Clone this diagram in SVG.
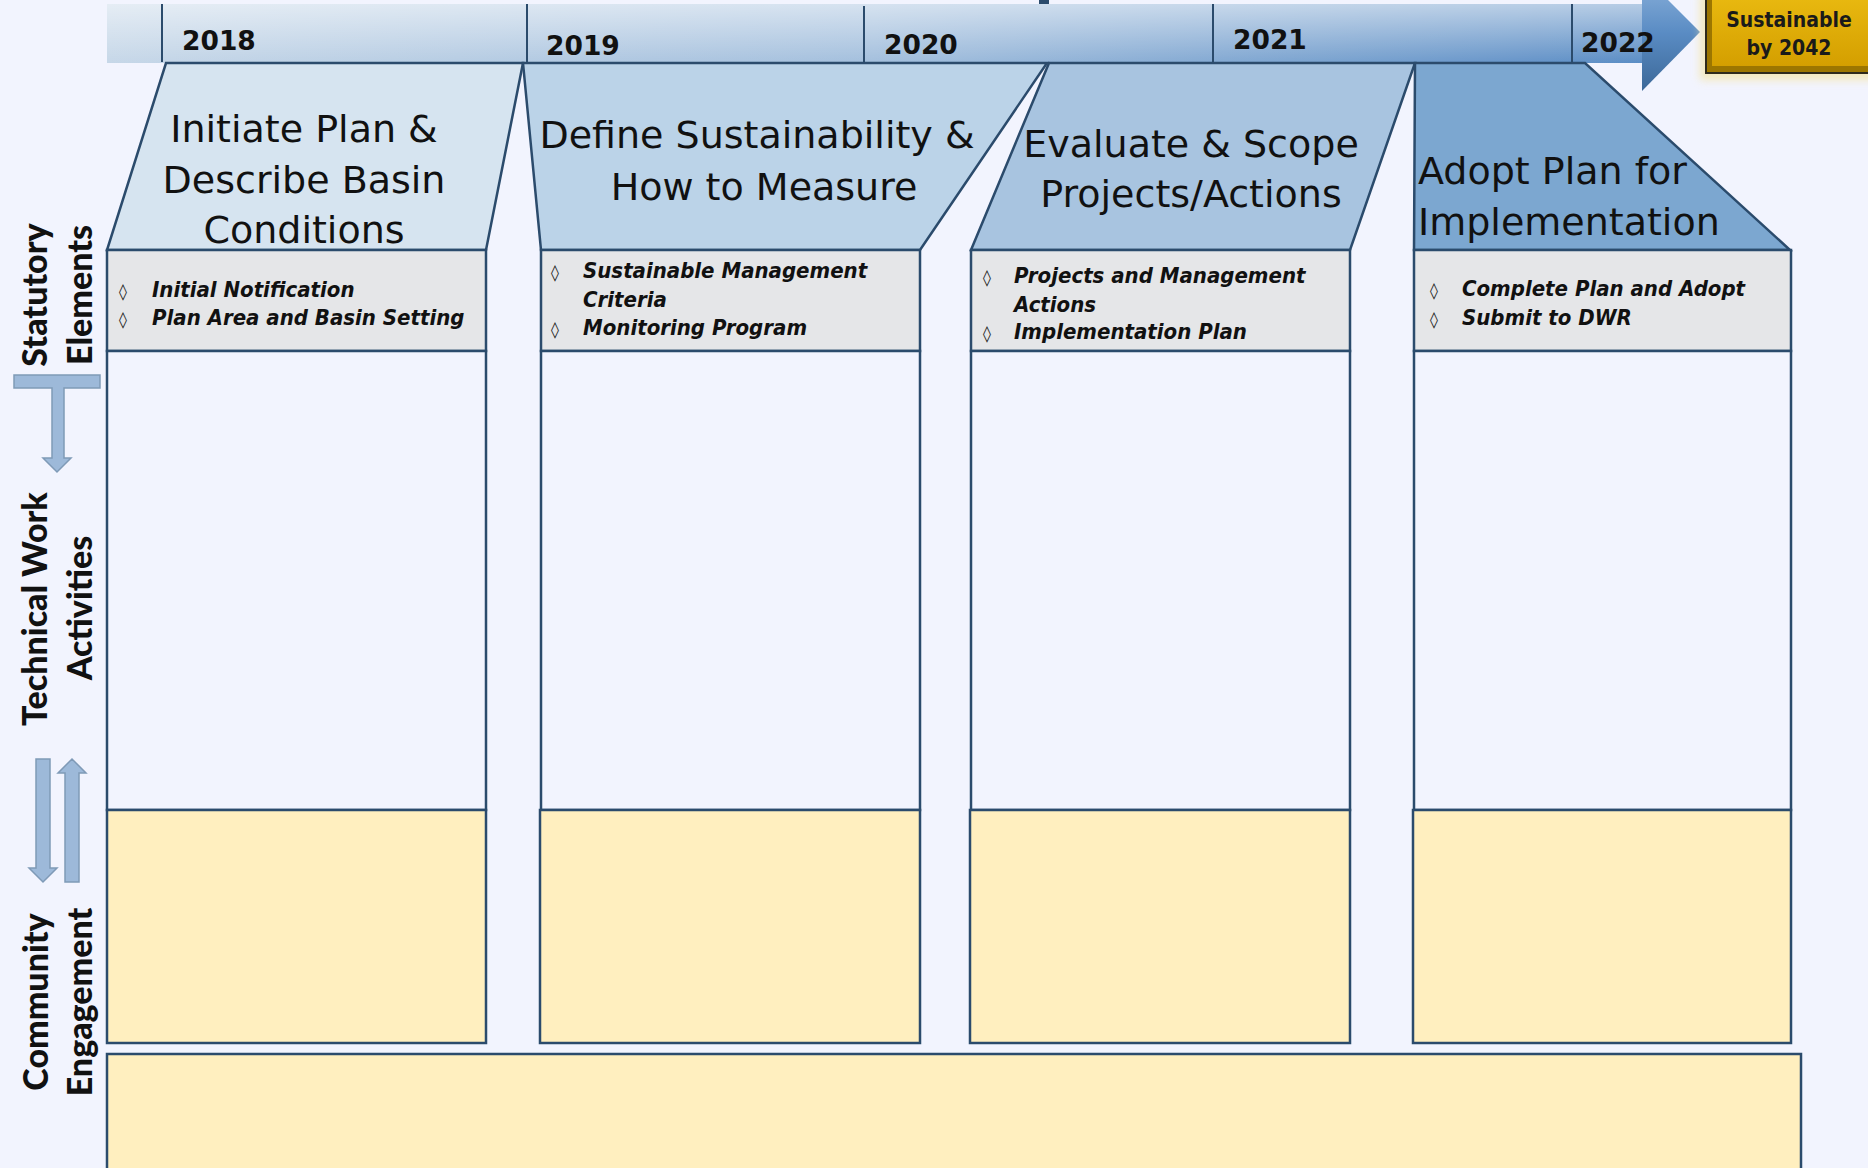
<svg xmlns="http://www.w3.org/2000/svg" width="1868" height="1168" viewBox="0 0 1868 1168">
<defs>
<linearGradient id="barH" x1="107" y1="0" x2="1642" y2="0" gradientUnits="userSpaceOnUse">
<stop offset="0" stop-color="#c6d7e8"/>
<stop offset="0.5" stop-color="#a3bfdd"/>
<stop offset="1" stop-color="#5b8dc5"/>
</linearGradient>
<linearGradient id="barV" x1="0" y1="4" x2="0" y2="63" gradientUnits="userSpaceOnUse">
<stop offset="0" stop-color="#ffffff" stop-opacity="0.55"/>
<stop offset="1" stop-color="#ffffff" stop-opacity="0"/>
</linearGradient>
<linearGradient id="head" x1="0" y1="-26" x2="0" y2="91" gradientUnits="userSpaceOnUse">
<stop offset="0" stop-color="#8fb4dc"/>
<stop offset="0.5" stop-color="#5a8cc4"/>
<stop offset="1" stop-color="#3c6898"/>
</linearGradient>
<linearGradient id="gold" x1="0" y1="0" x2="0" y2="1">
<stop offset="0" stop-color="#e9b910"/>
<stop offset="1" stop-color="#d49f00"/>
</linearGradient>
<filter id="glow" x="-20%" y="-20%" width="140%" height="140%">
<feGaussianBlur stdDeviation="4"/>
</filter>
</defs>
<style>
.bg{fill:#f2f4fe}
.ln{stroke:#2b4b6c;stroke-width:2.5;stroke-linejoin:miter}
.tick{stroke:#2b4b6c;stroke-width:2}
.gray{fill:#e5e6e8}
.white{fill:#f2f4fe}
.yel{fill:#ffefbf}
.year{font-family:"DejaVu Sans",Verdana,sans-serif;font-weight:bold;font-size:26.5px;fill:#111}
.title{font-family:"DejaVu Sans",Verdana,sans-serif;font-size:38px;fill:#111}
.bul{font-family:"DejaVu Sans Condensed","DejaVu Sans",sans-serif;font-style:italic;font-weight:bold;font-size:22px;fill:#111}
.dia{font-family:"DejaVu Sans",sans-serif;font-size:16px;fill:#222}
.lbl{font-family:Lato,"DejaVu Sans",sans-serif;font-weight:900;font-size:34px;fill:#111;text-anchor:middle}
.arr{fill:#9db9d9;stroke:#7f9ab7;stroke-width:1.5}
.gtxt{font-family:"DejaVu Sans Condensed","DejaVu Sans",sans-serif;font-weight:bold;font-size:21px;fill:#1a1a1a;text-anchor:middle}
</style>
<rect class="bg" x="0" y="0" width="1868" height="1168"/>

<g id="timeline">
<rect x="1039" y="0" width="10" height="5" fill="#2b4b6c"/>
<rect x="107" y="4" width="1536" height="59" fill="url(#barH)"/>
<rect x="107" y="4" width="1536" height="59" fill="url(#barV)"/>
<polygon points="1642,-26 1700,32 1642,91" fill="url(#head)"/>
<line class="tick" x1="162" y1="4" x2="162" y2="62"/>
<line class="tick" x1="527" y1="4" x2="527" y2="62"/>
<line class="tick" x1="864" y1="6" x2="864" y2="62"/>
<line class="tick" x1="1213" y1="4" x2="1213" y2="62"/>
<line class="tick" x1="1572" y1="4" x2="1572" y2="62"/>
<text class="year" x="182" y="50">2018</text>
<text class="year" x="546" y="55">2019</text>
<text class="year" x="884" y="54">2020</text>
<text class="year" x="1233" y="49">2021</text>
<text class="year" x="1581" y="52">2022</text>
</g>

<g id="goal">
<rect x="1700" y="-6" width="180" height="86" fill="#f3e3a0" opacity="0.7" filter="url(#glow)"/>
<rect x="1706" y="-4" width="170" height="77" fill="#9c7600" stroke="#2e2a1c" stroke-width="2"/>
<rect x="1712" y="-4" width="164" height="70" fill="url(#gold)"/>
<text class="gtxt" x="1789" y="27">Sustainable</text>
<text class="gtxt" x="1789" y="55">by 2042</text>
</g>

<g id="phase1">
<polygon class="ln" points="166,63 523,63 486,250 107,250" fill="#d6e4f0"/>
<text class="title" text-anchor="middle" x="304" y="142">Initiate Plan &amp;</text>
<text class="title" text-anchor="middle" x="304" y="193">Describe Basin</text>
<text class="title" text-anchor="middle" x="304" y="243">Conditions</text>
<rect class="gray ln" x="107" y="250" width="379" height="101"/>
<text class="dia" x="119" y="297">◊</text>
<text class="bul" x="152" y="297">Initial Notification</text>
<text class="dia" x="119" y="325">◊</text>
<text class="bul" x="152" y="325">Plan Area and Basin Setting</text>
<rect class="white ln" x="107" y="351" width="379" height="459"/>
<rect class="yel ln" x="107" y="810" width="379" height="233"/>
</g>

<g id="phase2">
<polygon class="ln" points="523,63 1047,63 920,250 541,250" fill="#bbd3e8"/>
<text class="title" text-anchor="middle" x="757" y="148">Define Sustainability &amp;</text>
<text class="title" text-anchor="middle" x="764" y="200">How to Measure</text>
<rect class="gray ln" x="541" y="250" width="379" height="101"/>
<text class="dia" x="551" y="278">◊</text>
<text class="bul" x="583" y="278">Sustainable Management</text>
<text class="bul" x="583" y="307">Criteria</text>
<text class="dia" x="551" y="335">◊</text>
<text class="bul" x="583" y="335">Monitoring Program</text>
<rect class="white ln" x="541" y="351" width="379" height="459"/>
<rect class="yel ln" x="540" y="810" width="380" height="233"/>
</g>

<g id="phase3">
<polygon class="ln" points="1049,63 1415,63 1350,250 971,250" fill="#a8c4e0"/>
<text class="title" text-anchor="middle" x="1191" y="157">Evaluate &amp; Scope</text>
<text class="title" text-anchor="middle" x="1191" y="207">Projects/Actions</text>
<rect class="gray ln" x="971" y="250" width="379" height="101"/>
<text class="dia" x="983" y="283">◊</text>
<text class="bul" x="1014" y="283">Projects and Management</text>
<text class="bul" x="1014" y="312">Actions</text>
<text class="dia" x="983" y="339">◊</text>
<text class="bul" x="1014" y="339">Implementation Plan</text>
<rect class="white ln" x="971" y="351" width="379" height="459"/>
<rect class="yel ln" x="970" y="810" width="380" height="233"/>
</g>

<g id="phase4">
<polygon class="ln" points="1415,63 1585,63 1790,250 1414,250" fill="#7ca7d0"/>
<text class="title" x="1418" y="184">Adopt Plan for</text>
<text class="title" x="1418" y="235">Implementation</text>
<rect class="gray ln" x="1414" y="250" width="377" height="101"/>
<text class="dia" x="1430" y="296">◊</text>
<text class="bul" x="1462" y="296">Complete Plan and Adopt</text>
<text class="dia" x="1430" y="325">◊</text>
<text class="bul" x="1462" y="325">Submit to DWR</text>
<rect class="white ln" x="1414" y="351" width="377" height="459"/>
<rect class="yel ln" x="1413" y="810" width="378" height="233"/>
</g>

<g id="engagement-band">
<rect class="yel ln" x="107" y="1054" width="1694" height="130"/>
</g>

<g id="row-labels">
<text class="lbl" transform="translate(47,295) rotate(-90)">Statutory</text>
<text class="lbl" transform="translate(92,295) rotate(-90)">Elements</text>
<text class="lbl" transform="translate(47,609) rotate(-90)">Technical Work</text>
<text class="lbl" transform="translate(92,608) rotate(-90)">Activities</text>
<text class="lbl" transform="translate(48,1002) rotate(-90)">Community</text>
<text class="lbl" transform="translate(92,1002) rotate(-90)">Engagement</text>
</g>

<g id="connectors">
<path class="arr" d="M14,375 H100 V388 H64 V458 H71 L57,472 L43,458 H52 V388 H14 Z"/>
<path class="arr" d="M36,759 H50 V868 H57 L43,882 L29,868 H36 Z"/>
<path class="arr" d="M65,882 V773 H58 L72,759 L86,773 H79 V882 Z"/>
</g>
</svg>
